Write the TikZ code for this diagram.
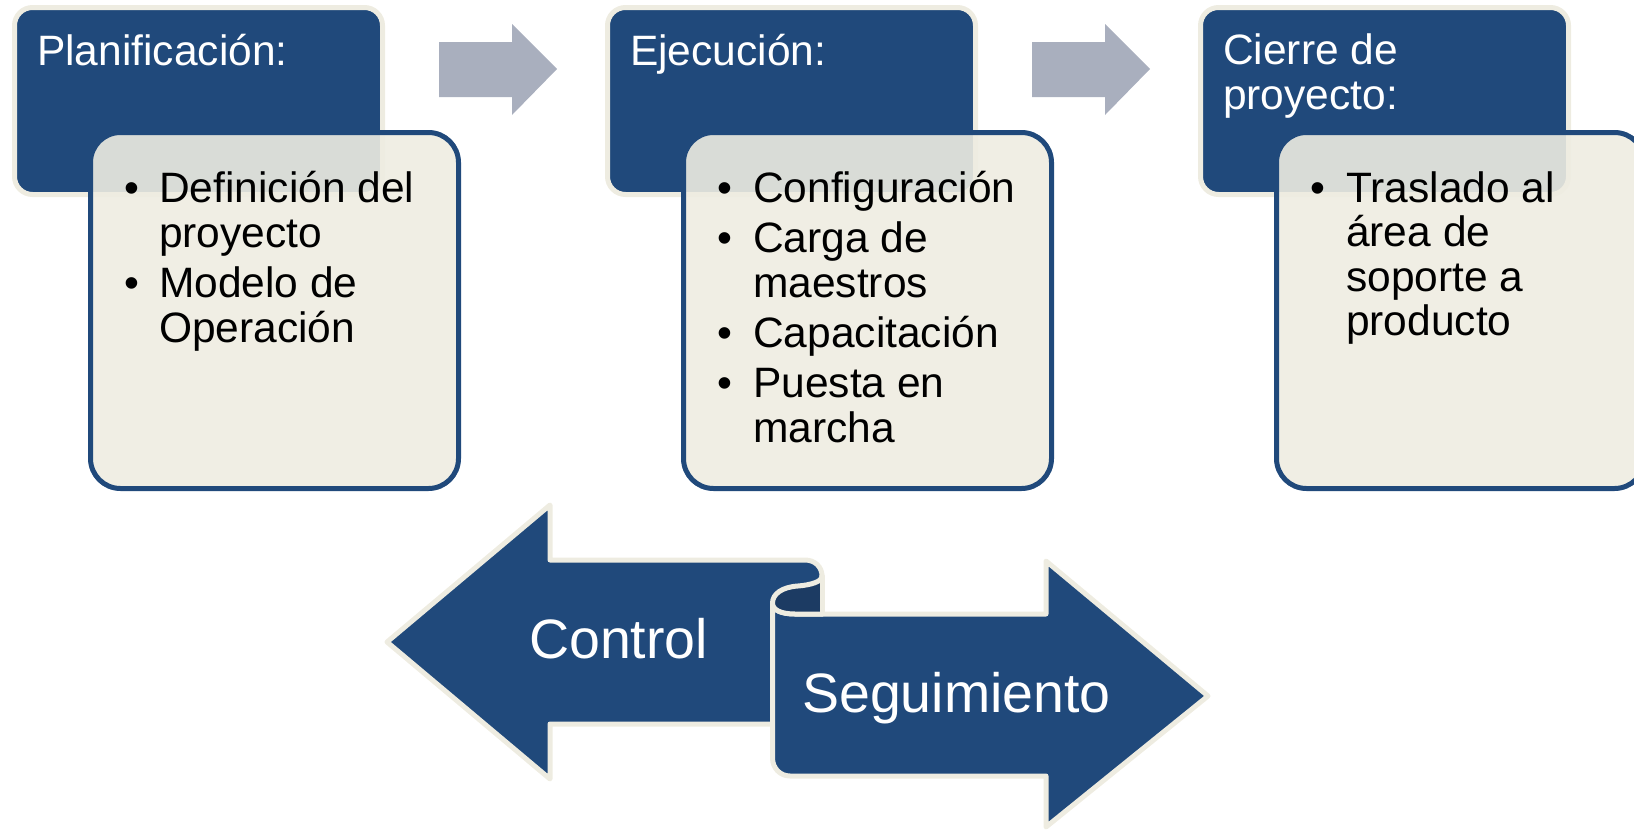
\documentclass[tikz,border=0pt]{standalone}
\usepackage{fontspec}
\setmainfont{Liberation Sans}
\definecolor{navy}{RGB}{32,73,123}
\definecolor{navydark}{RGB}{28,59,99}
\definecolor{cream}{RGB}{238,236,225}
\definecolor{greyarrow}{RGB}{169,175,190}
\begin{document}
\begin{tikzpicture}[x=1pt,y=-1pt,
  darkbox/.style={draw=cream, line width=5pt, fill=navy, rounded corners=18pt,
    minimum width=368pt, minimum height=187pt, inner sep=0pt},
  lightbox/.style={draw=navy, line width=5pt, fill=cream, fill opacity=0.9,
    rounded corners=30pt, minimum width=368pt, minimum height=356pt, inner sep=0pt},
  ttl/.style={anchor=base west, inner sep=0pt, text=white, font=\fontsize{42.5}{45}\selectfont},
  itm/.style={anchor=base west, inner sep=0pt, text=black, font=\fontsize{42.5}{45}\selectfont},
  big/.style={anchor=base west, inner sep=0pt, text=white, font=\fontsize{55.5}{60}\selectfont},
  greyarr/.style={fill=greyarrow},
  bigarrow/.style={fill=navy, draw=cream, line width=5pt, line join=round},
  creamline/.style={draw=cream, line width=5pt, line cap=round, line join=round}]
\useasboundingbox (0,0) rectangle (1634,833);
\clip (0,0) rectangle (1634,833);

% ---------- Box 1 ----------
\node[darkbox] (d1) at (198.5,101) {};
\node[ttl] (t1) at (37,65) {Planificación:};
\node[lightbox] (l1) at (274.5,310.5) {};
\node[itm] (u1a) at (124,202) {•};
\node[itm] (i1a) at (159,202) {Definición del};
\node[itm] (i1b) at (159,247) {proyecto};
\node[itm] (u1b) at (124,297) {•};
\node[itm] (i1c) at (159,297) {Modelo de};
\node[itm] (i1d) at (159,342) {Operación};

% ---------- Grey arrow 1 ----------
\fill[greyarr] (439,42) -- (512,42) -- (512,24) -- (557,69) -- (512,115) -- (512,97) -- (439,97) -- cycle;

% ---------- Box 2 ----------
\node[darkbox] (d2) at (791.5,101) {};
\node[ttl] (t2) at (630,65) {Ejecución:};
\node[lightbox] (l2) at (867.5,310.5) {};
\node[itm] (u2a) at (717,202) {•};
\node[itm] (i2a) at (753,202) {Configuración};
\node[itm] (u2b) at (717,252) {•};
\node[itm] (i2b) at (753,252) {Carga de};
\node[itm] (i2c) at (753,297) {maestros};
\node[itm] (u2c) at (717,347) {•};
\node[itm] (i2d) at (753,347) {Capacitación};
\node[itm] (u2d) at (717,397) {•};
\node[itm] (i2e) at (753,397) {Puesta en};
\node[itm] (i2f) at (753,442) {marcha};

% ---------- Grey arrow 2 ----------
\fill[greyarr] (1032,42) -- (1105,42) -- (1105,24) -- (1150,69) -- (1105,115) -- (1105,97) -- (1032,97) -- cycle;

% ---------- Box 3 ----------
\node[darkbox] (d3) at (1384.5,101) {};
\node[ttl] (t3a) at (1223,64.5) {Cierre de};
\node[ttl] (t3b) at (1223,109) {proyecto:};
\node[lightbox] (l3) at (1460.5,310.5) {};
\node[itm] (u3a) at (1310,202) {•};
\node[itm] (i3a) at (1346,202) {Traslado al};
\node[itm] (i3b) at (1346,246.5) {área de};
\node[itm] (i3c) at (1346,291) {soporte a};
\node[itm] (i3d) at (1346,335.5) {producto};

% ---------- Control arrow (left) ----------
\path[bigarrow] (387,642) -- (550,505) -- (550,560) -- (805,560)
  .. controls (815,560) and (822,567) .. (822,576) -- (822,724)
  -- (550,724) -- (550,779) -- cycle;

% ---------- Seguimiento arrow (right) ----------
\path[bigarrow] (772.5,603) -- (772.5,758) .. controls (772.5,768) and (780,776) .. (790,776)
  -- (1046,776) -- (1046,827) -- (1208,696) -- (1046,561) -- (1046,614)
  -- (795,614) .. controls (781,614) and (772.5,610) .. (772.5,603) -- cycle;

% inner of the roll
\fill[navydark] (822,576) .. controls (822,582) and (810,585) .. (798,586)
  .. controls (782,587) and (772.5,594) .. (772.5,603)
  .. controls (772.5,610) and (781,614) .. (795,614) -- (822,614) -- cycle;
\draw[creamline] (822,576) .. controls (822,582) and (810,585) .. (798,586)
  .. controls (782,587) and (772.5,594) .. (772.5,603)
  .. controls (772.5,610) and (781,614) .. (795,614) -- (822,614);
\draw[creamline] (822,576) -- (822,614);

\node[big] (ctl) at (529,658) {Control};
\node[big] (seg) at (802,712) {Seguimiento};
\end{tikzpicture}
\end{document}
